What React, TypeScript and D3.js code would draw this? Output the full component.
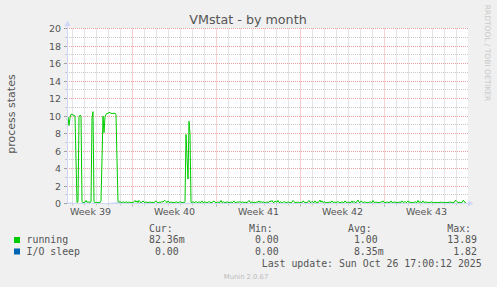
import React from "react";
import * as d3 from "d3";

// running process states, one sample every 2 hours starting Sep 23 2025 13:00 UTC
const runningValues: number[] = [
  9.6, 9.9, 8.9, 9.8, 10.2, 10.2, 10.1, 10.1, 10.0, 5.0, 0.1, 0.2, 9.9, 10.1, 10.0, 0.2, 0.1, 0.1, 0.15, 0.35,
  0.15, 0.2, 0.15, 0.15, 0.2, 9.8, 10.5, 0.2, 0.1, 0.1, 0.1, 0.1, 0.15, 0.1, 0.3, 5.0, 10.0, 8.1, 9.9, 10.2,
  10.3, 10.3, 10.4, 10.4, 10.3, 10.3, 10.3, 10.3, 10.3, 10.2, 5.0, 0.2, 0.15, 0.2, 0.15, 0.1, 0.2, 0.15, 0.1, 0.2,
  0.15, 0.1, 0.2, 0.1, 0.15, 0.1, 0.1, 0.2, 0.35, 0.15, 0.3, 0.1, 0.35, 0.2, 0.1, 0.15, 0.3, 0.15, 0.1, 0.2,
  0.1, 0.15, 0.1, 0.2, 0.1, 0.1, 0.15, 0.1, 0.2, 0.3, 0.15, 0.1, 0.1, 0.2, 0.1, 0.25, 0.15, 0.3, 0.35, 0.2,
  0.1, 0.3, 0.15, 0.1, 0.2, 0.1, 0.15, 0.1, 0.1, 0.2, 0.15, 0.1, 0.1, 0.25, 0.1, 0.15, 0.1, 0.1, 0.2, 7.9,
  5.3, 2.8, 9.4, 8.0, 0.15, 0.1, 0.2, 0.15, 0.1, 0.25, 0.1, 0.1, 0.2, 0.15, 0.1, 0.3, 0.1, 0.15, 0.2, 0.1,
  0.15, 0.1, 0.25, 0.1, 0.15, 0.1, 0.2, 0.3, 0.15, 0.1, 0.1, 0.2, 0.1, 0.15, 0.35, 0.1, 0.2, 0.15, 0.1, 0.1,
  0.2, 0.15, 0.1, 0.1, 0.2, 0.1, 0.15, 0.3, 0.1, 0.1, 0.15, 0.2, 0.1, 0.25, 0.1, 0.15, 0.2, 0.1, 0.1, 0.15,
  0.1, 0.2, 0.35, 0.15, 0.1, 0.2, 0.1, 0.15, 0.1, 0.1, 0.2, 0.15, 0.3, 0.1, 0.25, 0.1, 0.2, 0.15, 0.1, 0.1,
  0.2, 0.1, 0.15, 0.3, 0.2, 0.35, 0.15, 0.1, 0.3, 0.2, 0.15, 0.35, 0.1, 0.15, 0.2, 0.1, 0.1, 0.25, 0.15, 0.1,
  0.1, 0.2, 0.15, 0.1, 0.1, 0.15, 0.35, 0.2, 0.1, 0.15, 0.1, 0.2, 0.1, 0.1, 0.15, 0.1, 0.3, 0.2, 0.1, 0.15,
  0.1, 0.2, 0.35, 0.15, 0.1, 0.25, 0.15, 0.1, 0.3, 0.1, 0.15, 0.1, 0.2, 0.4, 0.15, 0.3, 0.1, 0.2, 0.15, 0.1,
  0.1, 0.15, 0.1, 0.2, 0.1, 0.3, 0.15, 0.1, 0.2, 0.1, 0.15, 0.25, 0.1, 0.15, 0.1, 0.2, 0.1, 0.1, 0.3, 0.15,
  0.1, 0.2, 0.1, 0.15, 0.1, 0.3, 0.1, 0.25, 0.15, 0.1, 0.2, 0.4, 0.15, 0.1, 0.3, 0.2, 0.1, 0.15, 0.2, 0.1,
  0.1, 0.15, 0.1, 0.2, 0.15, 0.1, 0.35, 0.15, 0.1, 0.2, 0.1, 0.15, 0.1, 0.1, 0.2, 0.15, 0.3, 0.1, 0.15, 0.1,
  0.2, 0.1, 0.15, 0.1, 0.3, 0.1, 0.1, 0.2, 0.15, 0.1, 0.1, 0.15, 0.1, 0.2, 0.1, 0.3, 0.15, 0.1, 0.25, 0.1,
  0.15, 0.3, 0.1, 0.2, 0.1, 0.15, 0.1, 0.1, 0.2, 0.15, 0.1, 0.35, 0.1, 0.2, 0.15, 0.1, 0.3, 0.1, 0.15, 0.2,
  0.1, 0.1, 0.15, 0.1, 0.2, 0.15, 0.1, 0.1, 0.1, 0.15, 0.1, 0.1, 0.15, 0.1, 0.2, 0.1, 0.1, 0.15, 0.1, 0.1,
  0.1, 0.15, 0.1, 0.2, 0.1, 0.15, 0.1, 0.1, 0.3, 0.35, 0.2, 0.1, 0.15, 0.1, 0.1, 0.1, 0.35, 0.3, 0.1, 0.08,
];
const runningStepHours = 2;

// I/O sleep, one sample every 20 hours (essentially zero)
const ioSleepValues: number[] = [
  0.02, 0.0, 0.01, 0.0, 0.0, 0.02, 0.0, 0.0, 0.01, 0.0,
  0.0, 0.0, 0.01, 0.0, 0.0, 0.0, 0.01, 0.0, 0.0, 0.0,
  0.01, 0.0, 0.0, 0.0, 0.01, 0.0, 0.0, 0.0, 0.0, 0.01,
  0.0, 0.0, 0.0, 0.01, 0.0, 0.0, 0.0, 0.0, 0.01, 0.0, 0.0,
];
const ioSleepStepHours = 20;

const weekLabels = ["Week 39", "Week 40", "Week 41", "Week 42", "Week 43"];
const weekStarts = ["2025-09-22", "2025-09-29", "2025-10-06", "2025-10-13", "2025-10-20"];
const yTicks = [0, 2, 4, 6, 8, 10, 12, 14, 16, 18, 20];

const seriesNames = ["running", "I/O sleep"];
const seriesColors = ["#00cc00", "#0066b3"];
const curValues = [" 82.36m", "  0.00"];
const minValues = ["  0.00", "  0.00"];
const avgValues = ["  1.00", "  8.35m"];
const maxValues = [" 13.89", "  1.82"];
const legendHeaders = [" Cur:", " Min:", " Avg:", " Max:"];

const title = "VMstat - by month";
const yLabel = "process states";
const lastUpdate = "Last update: Sun Oct 26 17:00:12 2025";
const version = "Munin 2.0.67";
const watermark = "RRDTOOL / TOBI OETIKER";

const W = 497;
const H = 287;
const PL = 67;
const PR = 467;
const PT = 28.5;
const PB = 203.5;

const startMs = Date.UTC(2025, 8, 23, 13, 0, 0);
const endMs = startMs + 800 * 3600 * 1000;

export default function App() {
  const x = d3.scaleUtc().domain([new Date(startMs), new Date(endMs)]).range([PL, PR]);
  const y = d3.scaleLinear().domain([0, 20]).range([PB, PT]);
  const snap = (v: number) => Math.round(v - 0.5) + 0.5;

  const runningPts = runningValues.map((v, i) => [new Date(startMs + i * runningStepHours * 3600000), v] as [Date, number]);
  const ioPts = ioSleepValues.map((v, i) => [new Date(startMs + i * ioSleepStepHours * 3600000), v] as [Date, number]);
  const line = d3
    .line<[Date, number]>()
    .x((d) => Math.min(PR, x(d[0])))
    .y((d) => y(d[1]));

  const days = d3.utcDay.range(new Date(startMs), new Date(endMs));
  const weekDates = weekStarts.map((s) => new Date(s + "T00:00:00Z"));
  const weekLines = weekDates.filter((d) => d.getTime() > startMs && d.getTime() < endMs);
  const minorY = d3.range(0, 21, 1).filter((v) => v % 2 !== 0);

  const mono = "'DejaVu Sans Mono', monospace";
  const sans = "'DejaVu Sans', sans-serif";
  const colStarts = [143, 243, 342, 441.3];
  const rowBase = [243, 254.5];

  return (
    <svg width={W} height={H} style={{ position: "fixed", left: 0, top: 0 }} xmlns="http://www.w3.org/2000/svg">
      <rect x={0} y={0} width={W} height={H} fill="#f0f0f0" />
      <rect x={PL} y={28} width={PR - PL + 1} height={176} fill="#ffffff" />

      {/* minor horizontal grid */}
      {minorY.map((v) => (
        <line key={"mh" + v} x1={PL} x2={PR + 1} y1={snap(y(v))} y2={snap(y(v))} stroke="#c8c8c8" strokeWidth={1} strokeDasharray="1,1" />
      ))}
      {/* minor vertical grid (days) */}
      {days
        .filter((d) => !weekLines.some((w) => w.getTime() === d.getTime()))
        .map((d, i) => (
          <line key={"dv" + i} x1={Math.floor(x(d)) + 0.5} x2={Math.floor(x(d)) + 0.5} y1={PT} y2={PB} stroke="#c8c8c8" strokeWidth={1} strokeDasharray="1,1" />
        ))}
      {/* major horizontal grid */}
      {yTicks.map((v) => (
        <line key={"Mh" + v} x1={PL} x2={PR + 1} y1={snap(y(v))} y2={snap(y(v))} stroke="#eea0a0" strokeWidth={1} strokeDasharray="1,1" />
      ))}
      {/* major vertical grid (weeks) */}
      {weekLines.map((d, i) => (
        <line key={"wv" + i} x1={Math.floor(x(d)) + 0.5} x2={Math.floor(x(d)) + 0.5} y1={PT} y2={PB} stroke="#eea0a0" strokeWidth={1} strokeDasharray="1,1" />
      ))}

      {/* tick marks */}
      {yTicks.map((v) => (
        <line key={"yt" + v} x1={PL - 3} x2={PL} y1={snap(y(v))} y2={snap(y(v))} stroke="#a0a0a0" strokeWidth={1} />
      ))}
      {minorY.map((v) => (
        <line key={"ymt" + v} x1={PL - 2} x2={PL} y1={snap(y(v))} y2={snap(y(v))} stroke="#c8c8c8" strokeWidth={1} />
      ))}
      {weekLines.map((d, i) => (
        <line key={"xt" + i} x1={Math.floor(x(d)) + 0.5} x2={Math.floor(x(d)) + 0.5} y1={PB} y2={PB + 3} stroke="#a0a0a0" strokeWidth={1} />
      ))}
      {days.map((d, i) => (
        <line key={"xmt" + i} x1={Math.floor(x(d)) + 0.5} x2={Math.floor(x(d)) + 0.5} y1={PB} y2={PB + 2} stroke="#c8c8c8" strokeWidth={1} />
      ))}

      {/* series */}
      <path d={line(runningPts) || ""} fill="none" stroke={seriesColors[0]} strokeWidth={1} />
      <path d={line(ioPts) || ""} fill="none" stroke={seriesColors[1]} strokeWidth={1} />

      {/* axes */}
      <line x1={PL + 0.5} x2={PL + 0.5} y1={PB + 0.5} y2={23} stroke="#cfd6f8" strokeWidth={1} />
      <line x1={PL} x2={PR + 3} y1={PB} y2={PB} stroke="#cfd6f8" strokeWidth={1} />
      <path d={`M${PL - 2.5},26 L${PL + 3.5},26 L${PL + 0.5},20.5 Z`} fill="#cfd6f8" />
      <path d={`M${PR + 1},${PB - 3} L${PR + 1},${PB + 3} L${PR + 6.5},${PB} Z`} fill="#cfd6f8" />

      {/* y tick labels */}
      {yTicks.map((v) => (
        <text key={"yl" + v} x={61} y={y(v) + 3.5} textAnchor="end" fontFamily={sans} fontSize={9.5} fill="#555">
          {v}
        </text>
      ))}
      {/* week labels */}
      {weekDates.map((d, i) => {
        const cx = x(new Date(d.getTime() + 3.5 * 86400000));
        return (
          <text key={"wl" + i} x={cx} y={215} textAnchor="middle" fontFamily={sans} fontSize={9.5} fill="#555">
            {weekLabels[i]}
          </text>
        );
      })}

      {/* title */}
      <text x={248} y={24.3} textAnchor="middle" fontFamily={sans} fontSize={12.7} fill="#555">
        {title}
      </text>
      {/* y label */}
      <text transform="translate(15,114) rotate(-90)" textAnchor="middle" fontFamily={sans} fontSize={11} fill="#555">
        {yLabel}
      </text>
      {/* watermark */}
      <text transform="translate(485,53) rotate(90)" textAnchor="middle" fontFamily={sans} fontSize={7.5} fill="#c8c8c8">
        {watermark}
      </text>

      {/* legend */}
      {legendHeaders.map((h, i) => (
        <text key={"lh" + i} x={colStarts[i]} y={231.5} fontFamily={mono} fontSize={9.9} fill="#555" style={{ whiteSpace: "pre" }}>
          {h}
        </text>
      ))}
      {seriesNames.map((n, r) => (
        <g key={"lr" + r}>
          <rect x={14} y={rowBase[r] - 6} width={6} height={6} fill={seriesColors[r]} />
          <text x={26.5} y={rowBase[r]} fontFamily={mono} fontSize={9.9} fill="#555" style={{ whiteSpace: "pre" }}>
            {n}
          </text>
          {[curValues, minValues, avgValues, maxValues].map((col, c) => (
            <text key={"lv" + c} x={colStarts[c]} y={rowBase[r]} fontFamily={mono} fontSize={9.9} fill="#555" style={{ whiteSpace: "pre" }}>
              {col[r]}
            </text>
          ))}
        </g>
      ))}
      <text x={261.7} y={266.8} fontFamily={mono} fontSize={9.9} fill="#555" style={{ whiteSpace: "pre" }}>
        {lastUpdate}
      </text>
      <text x={246} y={278.5} textAnchor="middle" fontFamily={sans} fontSize={6.8} fill="#bbbbbb">
        {version}
      </text>
    </svg>
  );
}
